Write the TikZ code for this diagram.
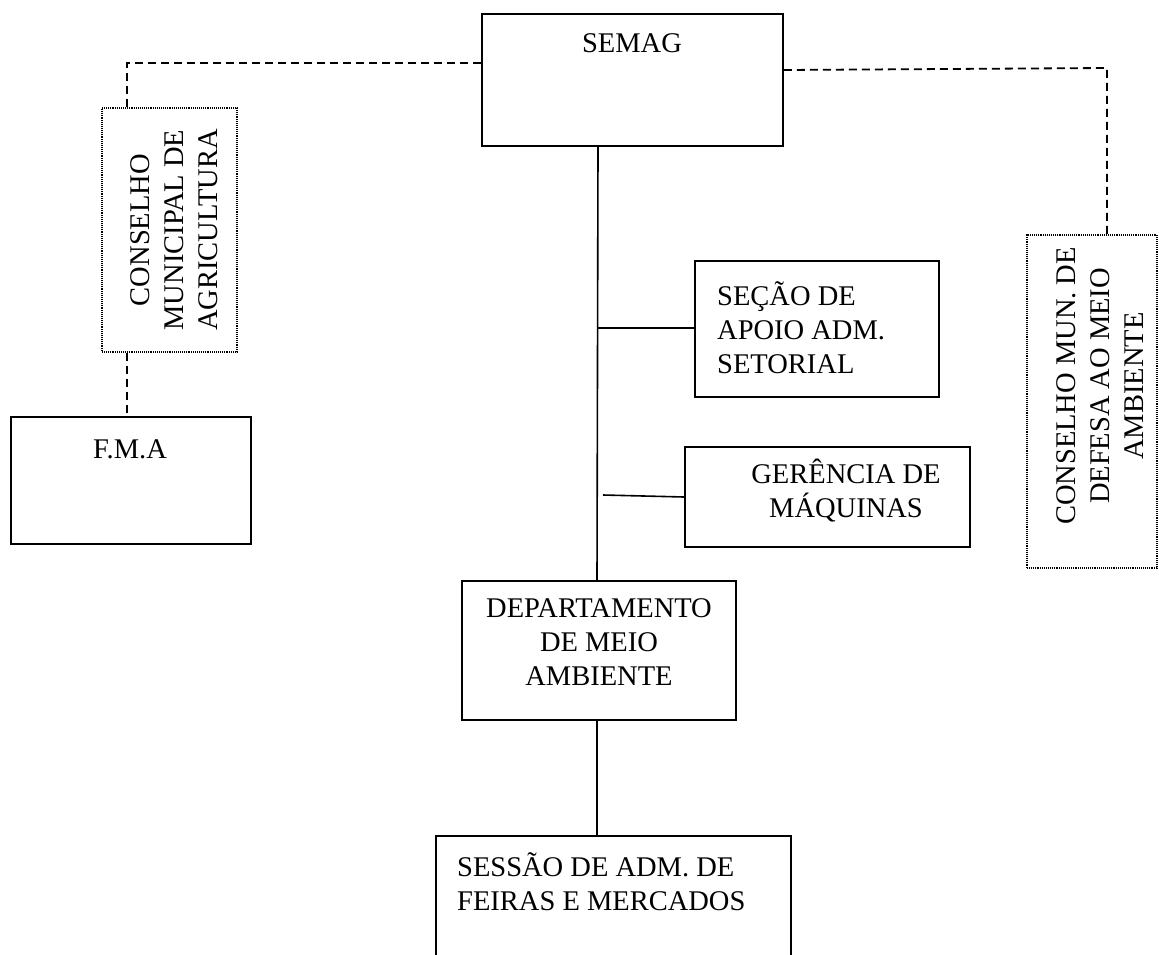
\documentclass[tikz,border=0pt]{standalone}
\usepackage{fontspec}
\setmainfont{Liberation Serif}
\begin{document}
\begin{tikzpicture}[x=1pt,y=-1pt,
  box/.style={draw, line width=1.6pt, inner sep=0pt, rectangle},
  dotbox/.style={draw, line width=1.6pt, dash pattern=on 1pt off 0.9pt, inner sep=0pt, rectangle},
  lbl/.style={font=\fontsize{28.5}{34}\selectfont, inner sep=0pt, align=center},
  conn/.style={line width=1.6pt},
  dconn/.style={line width=1.8pt, dash pattern=on 8pt off 5pt}]
\useasboundingbox (0,0) rectangle (1159,954);

% boxes
\node[box, minimum width=301pt, minimum height=132pt] (semag) at (632.5,80) {};
\node[dotbox, minimum width=135pt, minimum height=244pt] (cagri) at (169.5,230) {};
\node[box, minimum width=240pt, minimum height=127pt] (fma) at (131,480.5) {};
\node[box, minimum width=244pt, minimum height=136pt] (secao) at (817,329) {};
\node[box, minimum width=285pt, minimum height=100pt] (ger) at (827.5,497) {};
\node[dotbox, minimum width=130pt, minimum height=333pt] (cdef) at (1092,401.5) {};
\node[box, minimum width=274pt, minimum height=139pt] (dep) at (599,650.5) {};
\node[box, anchor=north west, minimum width=355pt, minimum height=160pt] (sess) at (435,835) {};

% texts
\node[lbl] (tsemag) at (632,43) {SEMAG};
\node[lbl, rotate=90] (tcagri) at (174,230) {CONSELHO\\MUNICIPAL DE\\AGRICULTURA};
\node[lbl] (tfma) at (130,449) {F.M.A};
\node[lbl, align=left, anchor=west] (tsecao) at (717,328) {SEÇÃO DE\\APOIO ADM.\\SETORIAL};
\node[lbl] (tger) at (846,491) {GERÊNCIA DE\\MÁQUINAS};
\node[lbl, rotate=90] (tcdef) at (1100,386) {CONSELHO MUN. DE\\DEFESA AO MEIO\\AMBIENTE};
\node[lbl] (tdep) at (599,642) {DEPARTAMENTO\\DE MEIO\\AMBIENTE};
\node[lbl, align=left, anchor=north west] (tsess) at (457,852) {SESSÃO DE ADM. DE\\FEIRAS E MERCADOS};

% solid connectors
\coordinate (b1) at (598,328);
\coordinate (b2) at (603,495);
\draw[conn] (semag.south -| 598,0) -- (dep.north -| 597,0);
\draw[conn] (b1) -- (secao.west |- b1);
\draw[conn] (b2) -- (ger.west);
\draw[conn] (dep.south -| 597,0) -- (sess.north -| 597,0);

% dashed connectors
\draw[dconn] (semag.west |- 0,63) -- (127,63) -- (cagri.north -| 127,0);
\draw[dconn] (cagri.south -| 127,0) -- (fma.north -| 127,0);
\draw[dconn] (semag.east |- 0,70) -- (1107,68) -- (cdef.north -| 1107,0);
\end{tikzpicture}
\end{document}
